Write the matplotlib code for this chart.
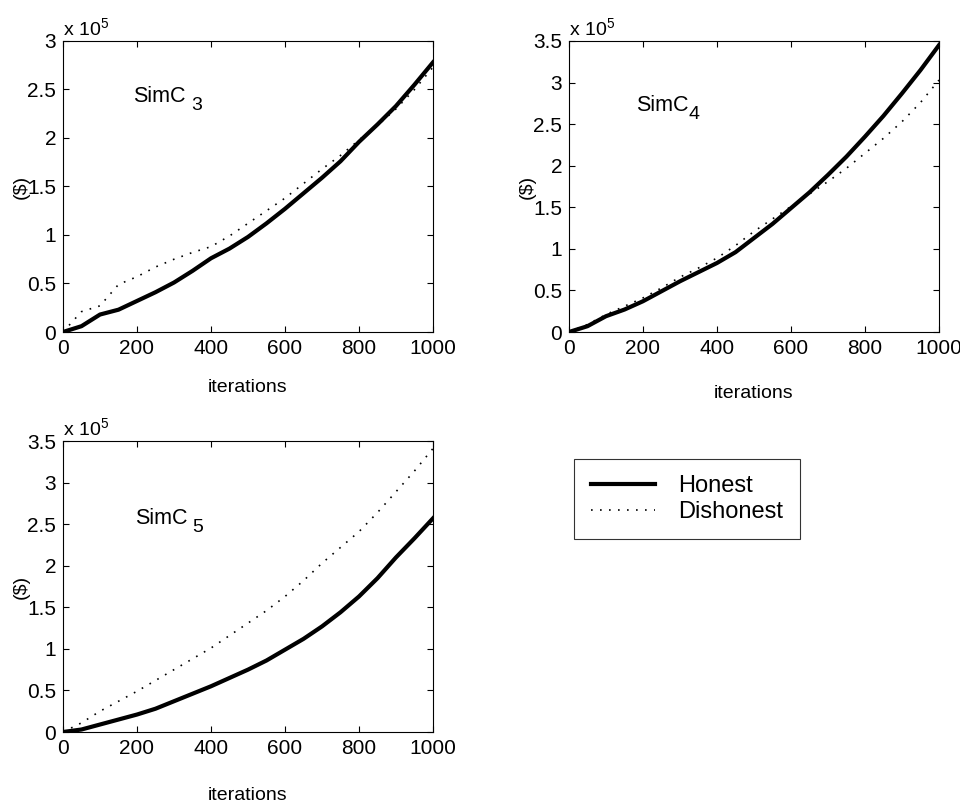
import numpy as np
import matplotlib
matplotlib.use("Agg")
import matplotlib.pyplot as plt
from matplotlib.transforms import offset_copy

plt.rcParams['font.family'] = ['Liberation Sans', 'DejaVu Sans']
plt.rcParams['mathtext.fontset'] = 'custom'
plt.rcParams['mathtext.rm'] = 'Liberation Sans'
plt.rcParams['mathtext.it'] = 'Liberation Sans'
plt.rcParams['mathtext.default'] = 'rm'

iterations = [0, 50, 100, 150, 200, 250, 300, 350, 400, 450, 500,
              550, 600, 650, 700, 750, 800, 850, 900, 950, 1000]

# values in units of 1e5 $
simc3_honest = [0.0, 0.06, 0.18, 0.23, 0.32, 0.41, 0.51, 0.63, 0.76, 0.86, 0.98,
                1.12, 1.27, 1.43, 1.59, 1.76, 1.96, 2.14, 2.33, 2.55, 2.78]
simc3_dishonest = [0.0, 0.21, 0.27, 0.49, 0.57, 0.67, 0.75, 0.82, 0.88, 0.99, 1.12,
                   1.25, 1.38, 1.53, 1.68, 1.82, 1.98, 2.13, 2.30, 2.50, 2.73]
simc4_honest = [0.0, 0.07, 0.19, 0.27, 0.37, 0.49, 0.61, 0.72, 0.83, 0.96, 1.13,
                1.30, 1.49, 1.68, 1.89, 2.11, 2.35, 2.60, 2.87, 3.15, 3.45]
simc4_dishonest = [0.0, 0.09, 0.21, 0.31, 0.41, 0.53, 0.66, 0.77, 0.89, 1.04, 1.21,
                   1.36, 1.51, 1.66, 1.81, 1.97, 2.15, 2.33, 2.53, 2.76, 3.03]
simc5_honest = [0.0, 0.03, 0.09, 0.15, 0.21, 0.28, 0.37, 0.46, 0.55, 0.65, 0.75,
                0.86, 0.99, 1.12, 1.27, 1.44, 1.63, 1.85, 2.10, 2.33, 2.57]
simc5_dishonest = [0.0, 0.11, 0.25, 0.37, 0.49, 0.62, 0.75, 0.88, 1.01, 1.16, 1.31,
                   1.46, 1.63, 1.82, 2.03, 2.22, 2.41, 2.64, 2.89, 3.14, 3.41]

# name, subscript, gap before subscript (px)
panels = [
    ("SimC", "3", 5, simc3_honest, simc3_dishonest, 3.0, [63, 41], (0.19, 0.81), 55),
    ("SimC", "4", 0, simc4_honest, simc4_dishonest, 3.5, [569, 41], (0.18, 0.78), 62),
    ("SimC", "5", 5, simc5_honest, simc5_dishonest, 3.5, [63, 441], (0.195, 0.735), 63),
]

W, H = 960, 805
fig = plt.figure(figsize=(W / 100, H / 100), dpi=100)
fs = 15
aw, ah = 370, 291
renderer = fig.canvas.get_renderer()

for name, sub, gap, hon, dis, ymax, (left, top), (tx, ty), xlab_off in panels:
    ax = fig.add_axes([left / W, 1 - (top + ah) / H, aw / W, ah / H])
    x = np.array(iterations)
    lh, = ax.plot(x, np.array(hon) * 1e5, color='black', lw=3, label='Honest')
    ld, = ax.plot(x, np.array(dis) * 1e5, color='black', lw=1.2,
                  linestyle=(0, (1, 4.4)), label='Dishonest')
    ax.set_xlim(0, 1000)
    ax.set_ylim(0, ymax * 1e5)
    ax.set_xticks(np.arange(0, 1001, 200))
    yt = np.arange(0, ymax + 0.01, 0.5)
    ax.set_yticks(yt * 1e5)
    ax.set_yticklabels([f"{v:g}" for v in yt])
    ax.tick_params(direction='in', top=True, right=True, length=4,
                   labelsize=fs, pad=5)
    ax.set_xlabel('iterations', fontsize=14)
    ax.xaxis.set_label_coords(0.5, -xlab_off / ah, transform=ax.transAxes)
    ax.xaxis.label.set_va('center')
    ax.set_ylabel('($)', fontsize=14)
    ax.yaxis.set_label_coords(-42 / aw, 0.5)
    ax.yaxis.label.set_va('center')
    ax.text(0.0, 1.008, r'x 10$^{5}$', transform=ax.transAxes, fontsize=14,
            ha='left', va='bottom')
    t = ax.text(tx, ty, name, transform=ax.transAxes, fontsize=15.5,
                ha='left', va='center')
    bb = t.get_window_extent(renderer=renderer)
    sub_tr = offset_copy(ax.transAxes, fig=fig, x=bb.width + gap, y=-9, units='dots')
    ax.text(tx, ty, sub, transform=sub_tr, fontsize=14, ha='left', va='center')
    for s in ax.spines.values():
        s.set_linewidth(0.8)

leg = fig.legend(handles=[lh, ld], loc='center',
                 bbox_to_anchor=(577 / W, 1 - 540 / H, 220 / W, 82 / H),
                 fontsize=17, frameon=True, fancybox=False,
                 edgecolor='black', handlelength=2.7, handletextpad=1.0,
                 borderpad=0.7, labelspacing=0.15, borderaxespad=0)
leg.get_frame().set_linewidth(0.8)

fig.savefig('out.png', dpi=100)
